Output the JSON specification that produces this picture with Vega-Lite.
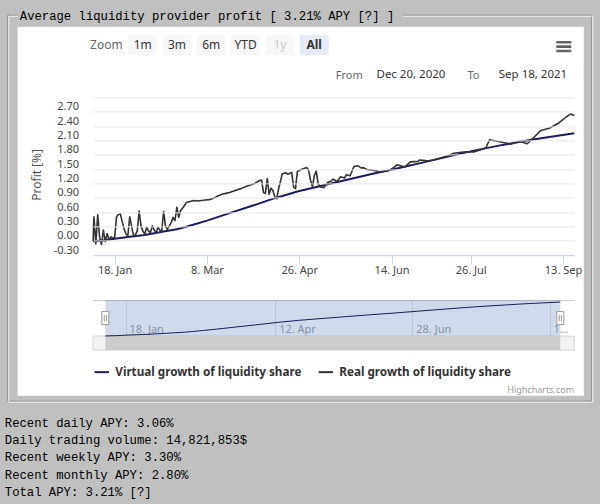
{
  "$schema": "https://vega.github.io/schema/vega-lite/v6.json",
  "background": "#c0c0c0",
  "padding": {"left": 4, "top": 8.4, "right": 7, "bottom": 7.35},
  "bounds": "flush",
  "spacing": 44.7,
  "config": {
    "view": {"stroke": null},
    "font": "Noto Sans"
  },
  "datasets": {
    "virtual": [
      {"date": "2021-01-06T13:00:00Z", "value": -0.01},
      {"date": "2021-01-13", "value": 0.01},
      {"date": "2021-01-18", "value": 0.04},
      {"date": "2021-01-26", "value": 0.08},
      {"date": "2021-02-03", "value": 0.12},
      {"date": "2021-02-13", "value": 0.19},
      {"date": "2021-02-20", "value": 0.24},
      {"date": "2021-02-25", "value": 0.29},
      {"date": "2021-03-02", "value": 0.35},
      {"date": "2021-03-08", "value": 0.42},
      {"date": "2021-03-18", "value": 0.55},
      {"date": "2021-04-01", "value": 0.73},
      {"date": "2021-04-13", "value": 0.89},
      {"date": "2021-04-25", "value": 1.03},
      {"date": "2021-05-10", "value": 1.17},
      {"date": "2021-05-22", "value": 1.28},
      {"date": "2021-06-04", "value": 1.40},
      {"date": "2021-06-18", "value": 1.52},
      {"date": "2021-07-01", "value": 1.64},
      {"date": "2021-07-14", "value": 1.76},
      {"date": "2021-07-27", "value": 1.88},
      {"date": "2021-08-10", "value": 1.99},
      {"date": "2021-08-28", "value": 2.12},
      {"date": "2021-09-19", "value": 2.25}
    ],
    "real": [
      {"date": "2021-01-06T13:00:00Z", "value": -0.01},
      {"date": "2021-01-07", "value": 0.50},
      {"date": "2021-01-08", "value": -0.07},
      {"date": "2021-01-09", "value": 0.54},
      {"date": "2021-01-10", "value": 0.08},
      {"date": "2021-01-11", "value": -0.08},
      {"date": "2021-01-12", "value": 0.22},
      {"date": "2021-01-13", "value": -0.02},
      {"date": "2021-01-14", "value": 0.15},
      {"date": "2021-01-15", "value": 0.02},
      {"date": "2021-01-16", "value": 0.08},
      {"date": "2021-01-17", "value": 0.05},
      {"date": "2021-01-18", "value": 0.07},
      {"date": "2021-01-19", "value": 0.50},
      {"date": "2021-01-20", "value": 0.55},
      {"date": "2021-01-21", "value": 0.56},
      {"date": "2021-01-22", "value": 0.40},
      {"date": "2021-01-23", "value": 0.25},
      {"date": "2021-01-24", "value": 0.14},
      {"date": "2021-01-25", "value": 0.10},
      {"date": "2021-01-26", "value": 0.50},
      {"date": "2021-01-27", "value": 0.30},
      {"date": "2021-01-28", "value": 0.10},
      {"date": "2021-01-29", "value": 0.12},
      {"date": "2021-01-30", "value": 0.20},
      {"date": "2021-01-31", "value": 0.62},
      {"date": "2021-02-01", "value": 0.31},
      {"date": "2021-02-02", "value": 0.20},
      {"date": "2021-02-03", "value": 0.14},
      {"date": "2021-02-04", "value": 0.28},
      {"date": "2021-02-05", "value": 0.20},
      {"date": "2021-02-06", "value": 0.17},
      {"date": "2021-02-07", "value": 0.31},
      {"date": "2021-02-08", "value": 0.22},
      {"date": "2021-02-09", "value": 0.17},
      {"date": "2021-02-10", "value": 0.28},
      {"date": "2021-02-11", "value": 0.22},
      {"date": "2021-02-12", "value": 0.21},
      {"date": "2021-02-13", "value": 0.61},
      {"date": "2021-02-14", "value": 0.30},
      {"date": "2021-02-15", "value": 0.24},
      {"date": "2021-02-16", "value": 0.31},
      {"date": "2021-02-17", "value": 0.38},
      {"date": "2021-02-18", "value": 0.49},
      {"date": "2021-02-19", "value": 0.42},
      {"date": "2021-02-20", "value": 0.70},
      {"date": "2021-02-21", "value": 0.49},
      {"date": "2021-02-22", "value": 0.63},
      {"date": "2021-02-23", "value": 0.68},
      {"date": "2021-02-24", "value": 0.73},
      {"date": "2021-02-25", "value": 0.80},
      {"date": "2021-02-27", "value": 0.82},
      {"date": "2021-03-01", "value": 0.84},
      {"date": "2021-03-03", "value": 0.83},
      {"date": "2021-03-05", "value": 0.84},
      {"date": "2021-03-07", "value": 0.85},
      {"date": "2021-03-09", "value": 0.86},
      {"date": "2021-03-11", "value": 0.88},
      {"date": "2021-03-12", "value": 0.90},
      {"date": "2021-03-14", "value": 0.94},
      {"date": "2021-03-16", "value": 0.97},
      {"date": "2021-03-18", "value": 0.99},
      {"date": "2021-03-20", "value": 1.01},
      {"date": "2021-03-23", "value": 1.05},
      {"date": "2021-03-26", "value": 1.09},
      {"date": "2021-03-29", "value": 1.14},
      {"date": "2021-04-02", "value": 1.19},
      {"date": "2021-04-04", "value": 1.24},
      {"date": "2021-04-05", "value": 1.26},
      {"date": "2021-04-06", "value": 1.27},
      {"date": "2021-04-07", "value": 1.01},
      {"date": "2021-04-08", "value": 0.99},
      {"date": "2021-04-09", "value": 1.30},
      {"date": "2021-04-10", "value": 0.97},
      {"date": "2021-04-11", "value": 1.10},
      {"date": "2021-04-12", "value": 1.05},
      {"date": "2021-04-13", "value": 0.92},
      {"date": "2021-04-14", "value": 0.88},
      {"date": "2021-04-15", "value": 1.08},
      {"date": "2021-04-17", "value": 1.40},
      {"date": "2021-04-19", "value": 1.42},
      {"date": "2021-04-20", "value": 1.39},
      {"date": "2021-04-22", "value": 1.43},
      {"date": "2021-04-23", "value": 1.12},
      {"date": "2021-04-24", "value": 1.09},
      {"date": "2021-04-25", "value": 1.45},
      {"date": "2021-04-27", "value": 1.49},
      {"date": "2021-04-30", "value": 1.53},
      {"date": "2021-05-01", "value": 1.47},
      {"date": "2021-05-02", "value": 1.26},
      {"date": "2021-05-03", "value": 1.13},
      {"date": "2021-05-04", "value": 1.36},
      {"date": "2021-05-05", "value": 1.46},
      {"date": "2021-05-06", "value": 1.20},
      {"date": "2021-05-07", "value": 1.13},
      {"date": "2021-05-09", "value": 1.11},
      {"date": "2021-05-11", "value": 1.22},
      {"date": "2021-05-13", "value": 1.25},
      {"date": "2021-05-14", "value": 1.29},
      {"date": "2021-05-16", "value": 1.24},
      {"date": "2021-05-18", "value": 1.34},
      {"date": "2021-05-20", "value": 1.31},
      {"date": "2021-05-21", "value": 1.38},
      {"date": "2021-05-23", "value": 1.36},
      {"date": "2021-05-25", "value": 1.55},
      {"date": "2021-05-27", "value": 1.57},
      {"date": "2021-05-29", "value": 1.52},
      {"date": "2021-05-30", "value": 1.53},
      {"date": "2021-06-01", "value": 1.49},
      {"date": "2021-06-05", "value": 1.47},
      {"date": "2021-06-08", "value": 1.44},
      {"date": "2021-06-12", "value": 1.46},
      {"date": "2021-06-14", "value": 1.50},
      {"date": "2021-06-17", "value": 1.59},
      {"date": "2021-06-21", "value": 1.54},
      {"date": "2021-06-24", "value": 1.65},
      {"date": "2021-06-28", "value": 1.66},
      {"date": "2021-06-29", "value": 1.69},
      {"date": "2021-07-03", "value": 1.67},
      {"date": "2021-07-06", "value": 1.69},
      {"date": "2021-07-10", "value": 1.73},
      {"date": "2021-07-14", "value": 1.78},
      {"date": "2021-07-17", "value": 1.83},
      {"date": "2021-07-21", "value": 1.85},
      {"date": "2021-07-24", "value": 1.86},
      {"date": "2021-07-28", "value": 1.86},
      {"date": "2021-07-31", "value": 1.90},
      {"date": "2021-08-03", "value": 1.94},
      {"date": "2021-08-05", "value": 2.11},
      {"date": "2021-08-09", "value": 2.08},
      {"date": "2021-08-13", "value": 2.05},
      {"date": "2021-08-16", "value": 2.02},
      {"date": "2021-08-21", "value": 2.08},
      {"date": "2021-08-25", "value": 2.03},
      {"date": "2021-08-29", "value": 2.18},
      {"date": "2021-09-01", "value": 2.30},
      {"date": "2021-09-06", "value": 2.36},
      {"date": "2021-09-11", "value": 2.47},
      {"date": "2021-09-15", "value": 2.60},
      {"date": "2021-09-17", "value": 2.65},
      {"date": "2021-09-19", "value": 2.62}
    ],
    "selection": [
      {"start": "2021-01-06T12:00:00Z", "end": "2021-09-19T00:00:00Z"}
    ]
  },
  "vconcat": [
    {
      "width": 481.3,
      "height": 157.6,
      "resolve": {"axis": {"x": "independent", "y": "independent"}},
      "layer": [
        {
          "data": {"values": [{}]},
          "mark": {"type": "rect", "fill": "#ffffff"},
          "encoding": {
            "x": {"datum": 1606476240000, "type": "temporal", "axis": null},
            "x2": {"datum": 1632444796800},
            "y": {"datum": 4.4804, "type": "quantitative", "axis": null},
            "y2": {"datum": -3.2461}
          }
        },
        {
          "data": {"values": [{}]},
          "mark": {"type": "rect", "fillOpacity": 0, "stroke": "#8a8a8a", "strokeWidth": 1, "strokeDash": [10, 385.8, 3000, 0]},
          "encoding": {
            "x": {"datum": 1606026700800, "type": "temporal", "axis": null},
            "x2": {"datum": 1632811737600},
            "y": {"datum": 4.7212, "type": "quantitative", "axis": null},
            "y2": {"datum": -3.3613}
          }
        },
        {
          "data": {"values": [{}]},
          "mark": {"type": "rect", "fillOpacity": 0, "stroke": "#f4f4f4", "strokeWidth": 1, "strokeDash": [9, 385.8, 3000, 0]},
          "encoding": {
            "x": {"datum": 1606072579200, "type": "temporal", "axis": null},
            "x2": {"datum": 1632857616000},
            "y": {"datum": 4.7002, "type": "quantitative", "axis": null},
            "y2": {"datum": -3.3822}
          }
        },
        {
          "data": {"name": "virtual"},
          "mark": {"type": "line", "strokeWidth": 2, "strokeJoin": "round"},
          "encoding": {
            "x": {
              "field": "date",
              "type": "temporal",
              "scale": {
                "type": "utc",
                "domain": [
                  {"year": 2021, "month": 1, "date": 6, "hours": 12, "utc": true},
                  {"year": 2021, "month": 9, "date": 19, "utc": true}
                ]
              },
              "axis": {
                "values": [
                  {"year": 2021, "month": 1, "date": 18, "utc": true},
                  {"year": 2021, "month": 3, "date": 8, "utc": true},
                  {"year": 2021, "month": 4, "date": 26, "utc": true},
                  {"year": 2021, "month": 6, "date": 14, "utc": true},
                  {"year": 2021, "month": 7, "date": 26, "utc": true},
                  {"year": 2021, "month": 9, "date": 13, "utc": true}
                ],
                "labelExpr": "utcFormat(datum.value, '%-d. %b')",
                "domainColor": "#ccd6eb",
                "tickColor": "#ccd6eb",
                "tickSize": 9,
                "labelFont": "Noto Sans",
                "labelFontSize": 11,
                "labelColor": "#444444",
                "labelPadding": 1,
                "labelFlush": false,
                "labelOverlap": false,
                "grid": false,
                "zindex": 1,
                "title": "Average liquidity provider profit [ 3.21% APY [?] ]",
                "titleX": -73.7,
                "titleY": -239.8,
                "titleAlign": "left",
                "titleBaseline": "middle",
                "titleFont": "Liberation Mono",
                "titleFontSize": 12.25,
                "titleFontWeight": "normal",
                "titleColor": "#000000",
                "titleLimit": 1000
              }
            },
            "y": {
              "field": "value",
              "type": "quantitative",
              "scale": {"domain": [-0.3, 3.0], "nice": false, "zero": false},
              "axis": {
                "values": [-0.3, 0, 0.3, 0.6, 0.9, 1.2, 1.5, 1.8, 2.1, 2.4, 2.7, 3.0],
                "labelExpr": "datum.value > 2.95 ? '' : (datum.value < 0 ? '-' + format(-datum.value, '.2f') : format(datum.value, '.2f'))",
                "grid": true,
                "gridColor": "#e6e6e6",
                "domain": false,
                "ticks": false,
                "tickSize": 0,
                "labelPadding": 14.4,
                "labelBaseline": "alphabetic",
                "labelOffset": -2,
                "labelFont": "Noto Sans",
                "labelFontSize": 11,
                "labelColor": "#444444",
                "labelFlush": false,
                "labelOverlap": false,
                "zindex": 1,
                "title": "Profit [%]",
                "titleX": -56,
                "titleY": 77,
                "titleAngle": -90,
                "titleAlign": "center",
                "titleBaseline": "middle",
                "titleFont": "Noto Sans",
                "titleFontSize": 12,
                "titleFontWeight": "normal",
                "titleColor": "#555555"
              }
            },
            "stroke": {
              "datum": "Virtual growth of liquidity share",
              "type": "nominal",
              "scale": {
                "domain": ["Virtual growth of liquidity share", "Real growth of liquidity share"],
                "range": ["#1c1c5c", "#333333"]
              },
              "legend": {
                "orient": "none",
                "legendX": 0.3,
                "legendY": 265.85,
                "direction": "horizontal",
                "title": null,
                "padding": 0,
                "symbolType": "stroke",
                "symbolSize": 205,
                "symbolStrokeWidth": 2,
                "labelFont": "Noto Sans",
                "labelFontSize": 11.7,
                "labelFontWeight": "bold",
                "labelColor": "#333333",
                "labelOffset": 5,
                "columnPadding": 12,
                "labelLimit": 400
              }
            }
          }
        },
        {
          "data": {"name": "real"},
          "mark": {"type": "line", "strokeWidth": 1.6, "strokeJoin": "round"},
          "encoding": {
            "x": {
              "field": "date",
              "type": "temporal",
              "axis": {
                "orient": "top",
                "labels": false,
                "ticks": false,
                "domain": false,
                "grid": false,
                "zindex": 1,
                "title": "From",
                "titleX": 242.3,
                "titleY": -21.85,
                "titleAlign": "left",
                "titleBaseline": "middle",
                "titleAngle": 0,
                "titleFont": "Noto Sans",
                "titleFontSize": 11,
                "titleFontWeight": "normal",
                "titleColor": "#666666"
              }
            },
            "y": {
              "field": "value",
              "type": "quantitative",
              "axis": {
                "orient": "right",
                "labels": false,
                "ticks": false,
                "domain": false,
                "grid": false,
                "zindex": 1,
                "title": "To",
                "titleX": -107.3,
                "titleY": -21.85,
                "titleAlign": "left",
                "titleBaseline": "middle",
                "titleAngle": 0,
                "titleFont": "Noto Sans",
                "titleFontSize": 11,
                "titleFontWeight": "normal",
                "titleColor": "#666666"
              }
            },
            "stroke": {"datum": "Real growth of liquidity share", "type": "nominal"}
          }
        },
        {
          "data": {"values": [{"button": "Zoom"}, {"button": "1m"}, {"button": "3m"}, {"button": "6m"}, {"button": "YTD"}, {"button": "1y"}, {"button": "All"}]},
          "mark": {"type": "point", "size": 0, "filled": true},
          "encoding": {
            "fill": {
              "field": "button",
              "type": "nominal",
              "scale": {
                "domain": ["Zoom", "1m", "3m", "6m", "YTD", "1y", "All"],
                "range": ["rgba(255,255,255,0)", "#f7f7f7", "#f7f7f7", "#f7f7f7", "#f7f7f7", "#f7f7f7", "#e6ebf5"]
              },
              "legend": {
                "orient": "none",
                "legendX": -1.1,
                "legendY": -67,
                "direction": "horizontal",
                "title": null,
                "padding": 0,
                "symbolType": "M-1,-0.69H1V0.69H-1Z",
                "symbolSize": 841,
                "symbolStrokeWidth": 0,
                "symbolOpacity": 1,
                "labelAlign": "center",
                "labelOffset": -14.5,
                "labelFont": "Noto Sans",
                "labelFontSize": 12,
                "labelColor": "#333333",
                "columnPadding": 5.3,
                "labelLimit": 100,
                "encode": {
                  "labels": {
                    "update": {
                      "fill": {"signal": "datum.label == '1y' ? '#cccccc' : datum.label == 'Zoom' ? '#666666' : '#333333'"},
                      "fontWeight": {"signal": "datum.label == 'All' ? 'bold' : 'normal'"}
                    }
                  }
                }
              }
            }
          }
        },
        {
          "data": {"values": [{"range": "Dec 20, 2020"}, {"range": "Sep 18, 2021"}]},
          "mark": {"type": "point", "size": 0, "filled": true, "fill": "#ffffff", "stroke": "#cccccc", "strokeWidth": 1},
          "encoding": {
            "shape": {
              "field": "range",
              "type": "nominal",
              "scale": {"domain": ["Dec 20, 2020", "Sep 18, 2021"], "range": ["M-1,-0.208H1V0.208H-1Z", "M-1,-0.208H1V0.208H-1Z"]},
              "legend": {
                "orient": "none",
                "legendX": 275.8,
                "legendY": -67.5,
                "direction": "horizontal",
                "title": null,
                "padding": 0,
                "columnPadding": 29.3,
                "symbolSize": 7744,
                "symbolFillColor": "#ffffff",
                "symbolStrokeColor": "#cccccc",
                "symbolStrokeWidth": 1,
                "symbolOpacity": 1,
                "labelAlign": "left",
                "labelOffset": -81.3,
                "labelFont": "Noto Sans",
                "labelFontSize": 11.5,
                "labelColor": "#333333",
                "labelLimit": 200,
                "encode": {
                  "symbols": {
                    "update": {
                      "fill": {"value": "#ffffff"},
                      "stroke": {"value": "#cccccc"},
                      "strokeWidth": {"value": 1},
                      "opacity": {"value": 1}
                    }
                  }
                }
              }
            }
          }
        },
        {
          "data": {"values": [{"menu": "menu"}]},
          "mark": {"type": "point", "size": 0, "filled": true, "fill": "#666666"},
          "encoding": {
            "opacity": {
              "field": "menu",
              "type": "ordinal",
              "scale": {"domain": ["menu"], "range": [1]},
              "legend": {
                "orient": "none",
                "legendX": 463.3,
                "legendY": -58.3,
                "title": null,
                "padding": 0,
                "symbolType": "M-1,-0.75H1V-0.42H-1Z M-1,-0.17H1V0.17H-1Z M-1,0.42H1V0.75H-1Z",
                "symbolSize": 225,
                "symbolFillColor": "#666666",
                "symbolStrokeWidth": 0,
                "labelExpr": "''"
              }
            }
          }
        }
      ]
    },
    {
      "width": 481.3,
      "height": 36,
      "layer": [
        {
          "data": {"values": [{}]},
          "mark": {"type": "rect", "fill": "#f2f2f2", "stroke": "#d4d4d4", "strokeWidth": 1},
          "encoding": {
            "y": {"datum": -0.02, "type": "quantitative"},
            "y2": {"datum": -0.953}
          }
        },
        {
          "data": {"name": "selection"},
          "mark": {"type": "rect", "fill": "#6685c2", "fillOpacity": 0.3},
          "encoding": {
            "x": {"field": "start", "type": "temporal"},
            "x2": {"field": "end"}
          }
        },
        {
          "data": {"name": "selection"},
          "mark": {"type": "rect", "fill": "#cccccc"},
          "encoding": {
            "x": {"field": "start", "type": "temporal"},
            "x2": {"field": "end"},
            "y": {"datum": -0.02, "type": "quantitative"},
            "y2": {"datum": -0.953}
          }
        },
        {
          "data": {"name": "virtual"},
          "mark": {"type": "line", "stroke": "#1c1c5c", "strokeWidth": 1},
          "encoding": {
            "x": {
              "field": "date",
              "type": "temporal",
              "scale": {
                "type": "utc",
                "domain": [
                  {"year": 2020, "month": 12, "date": 30, "hours": 14, "minutes": 14, "utc": true},
                  {"year": 2021, "month": 9, "date": 26, "hours": 20, "minutes": 38, "utc": true}
                ]
              },
              "axis": {
                "orient": "top",
                "values": [
                  {"year": 2021, "month": 1, "date": 18, "utc": true},
                  {"year": 2021, "month": 4, "date": 12, "utc": true},
                  {"year": 2021, "month": 6, "date": 28, "utc": true},
                  {"year": 2021, "month": 9, "date": 13, "utc": true}
                ],
                "labelExpr": "utcmonth(datum.value) == 8 ? '1…' : utcFormat(datum.value, '%-d. %b')",
                "domainColor": "#cccccc",
                "ticks": false,
                "tickSize": 0,
                "grid": true,
                "gridColor": "#e6e6e6",
                "labelAlign": "left",
                "labelBaseline": "alphabetic",
                "labelPadding": -32.7,
                "labelOffset": 3.3,
                "labelColor": "#999999",
                "labelFont": "Noto Sans",
                "labelFontSize": 11,
                "labelFlush": false,
                "labelOverlap": false,
                "labelBound": false,
                "title": "Highcharts.com",
                "titleX": 480.6,
                "titleY": 89.3,
                "titleAlign": "right",
                "titleBaseline": "middle",
                "titleFont": "Noto Sans",
                "titleFontSize": 9,
                "titleFontWeight": "normal",
                "titleColor": "#999999"
              }
            },
            "y": {
              "field": "value",
              "type": "quantitative",
              "scale": {"domain": [-0.02, 2.38], "nice": false, "zero": false},
              "axis": {
                "labels": false,
                "ticks": false,
                "domain": false,
                "grid": false,
                "title": ["Recent daily APY: 3.06%", "Daily trading volume: 14,821,853$", "Recent weekly APY: 3.30%", "Recent monthly APY: 2.80%", "Total APY: 3.21% [?]"],
                "titleX": -88.7,
                "titleY": 126,
                "titleAngle": 0,
                "titleAlign": "left",
                "titleBaseline": "alphabetic",
                "titleFont": "Liberation Mono",
                "titleFontSize": 12.25,
                "titleFontWeight": "normal",
                "titleColor": "#000000",
                "titleLineHeight": 17.35,
                "titleLimit": 1000
              }
            }
          }
        },
        {
          "data": {"name": "selection"},
          "mark": {"type": "point", "shape": "M-0.5,-0.93H0.5V0.93H-0.5Z M-0.15,-0.45V0.45 M0.15,-0.45V0.45", "size": 196, "filled": true, "fill": "#ffffff", "stroke": "#999999", "strokeWidth": 1, "opacity": 1},
          "encoding": {
            "x": {"field": "start", "type": "temporal"}
          }
        },
        {
          "data": {"name": "selection"},
          "mark": {"type": "point", "shape": "M-0.5,-0.93H0.5V0.93H-0.5Z M-0.15,-0.45V0.45 M0.15,-0.45V0.45", "size": 196, "filled": true, "fill": "#ffffff", "stroke": "#999999", "strokeWidth": 1, "opacity": 1},
          "encoding": {
            "x": {"field": "end", "type": "temporal"}
          }
        }
      ]
    }
  ]
}
